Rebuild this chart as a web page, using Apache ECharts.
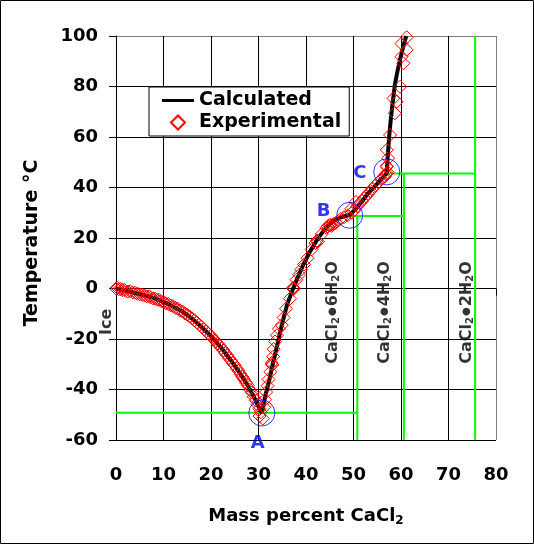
<!DOCTYPE html>
<html>
<head>
<meta charset="utf-8">
<title>CaCl2 - water phase diagram</title>
<script src="https://cdn.jsdelivr.net/npm/echarts@6/dist/echarts.min.js"></script>
<style>
    html, body { margin: 0; padding: 0; background: #fff; }
    #main { width: 534px; height: 544px; }
</style>
</head>
<body>
<div id="main"></div>
<script>
// calculated liquidus (ice, 6H2O, 4H2O, 2H2O branches)
const calcX = [0, 2, 4, 6, 8, 10, 12, 14, 16, 18, 20, 22, 24, 25, 26, 27, 28, 29, 30, 30.7,
    31.5, 32.3, 33, 34, 34.9, 36, 37.3, 38.4, 39.4, 40.8, 42.3, 43.5, 44.7, 46, 47.5, 49.2,
    50.5, 52, 53.1, 54.5, 55.8, 57,
    57.2, 57.5, 57.8, 58.2, 58.7, 59.3, 59.9, 60.5, 61.1];
const calcY = [0, -0.9, -1.8, -2.7, -3.8, -5.4, -7.1, -9.2, -11.9, -15.2, -18.9, -23.1, -28, -30.6, -33.3, -36.2, -39.3, -42.8, -46.8, -49.3,
    -42, -36, -30, -22, -14.5, -6.5, 0, 5, 9.3, 14.5, 19.2, 22.3, 25.1, 27, 28.3, 29.1,
    31.5, 35, 37.8, 40.5, 43.2, 45.7,
    52, 60, 66, 73, 80.5, 86.5, 91.5, 96, 100];

// experimental points
const expX = [0, 0.3, 0.6, 1, 1.3, 1.7, 2, 2.5, 3, 3.5, 4, 4.5, 5, 5.5, 6, 6.5, 7, 7.3, 7.8, 8.2,
    8.6, 9, 9.5, 10, 10.5, 11, 11.5, 12, 12.5, 13, 13.5, 14, 14.5, 15, 15.5, 16, 16.5, 17, 17.5, 18,
    18.5, 19, 19.5, 20, 20.3, 20.7, 21, 21.4, 21.8, 22.2, 22.6, 23, 23.4, 23.8, 24.2, 24.6, 25, 25.4, 25.8, 26.2,
    26.6, 27, 27.4, 27.8, 28.2, 28.6, 29, 29.4, 29.8, 30.2, 30.5, 30.2, 30.9,
    31.2, 31.4, 31.6, 31.9, 32.1, 32.5, 32.8, 32.8, 32.9, 33.1, 33.2, 33.5, 33.9, 34.3, 34.9, 35.3, 35.8, 36.6,
    37.3, 37.3, 37.4, 38, 38.6, 39, 39.6, 40.3, 41.2, 42, 42.3, 42.5, 43.3, 44.3, 44.8, 45, 45.2, 45.4, 45.6, 44.6, 45.9, 46.3,
    47.3, 48, 48.8, 49.6, 50.2, 50.8, 51.3, 51.8, 52.2, 52.6, 53.1, 53.6, 54, 54.6, 55.2, 55.8, 56.3, 56.8, 57, 57.2, 50.5, 49.5,
    56.6, 57, 57, 57.3, 57, 57.7, 58.7, 59.1, 58.4, 59.8, 60.5, 60.1, 61.2, 60.1, 60.8, 61.2];
const expY = [0, 0.2, -0.3, -0.2, -0.6, -0.5, -0.9, -1.2, -1.1, -1.6, -1.7, -2.1, -2.3, -2.5, -2.8, -3.1, -3.1, -3.6, -3.9, -4,
    -4.4, -4.5, -5, -5.3, -5.9, -6.1, -6.7, -7, -7.7, -8, -8.7, -9.1, -9.9, -10.4, -11.1, -11.8, -12.6, -13.4, -14.4, -15.1,
    -16.2, -17, -18, -18.8, -19.6, -20.2, -21, -21.9, -22.6, -23.7, -24.4, -25.6, -26.4, -27.6, -28.4, -29.6, -30.4, -31.7, -32.6, -33.9,
    -35, -36.1, -37.4, -38.5, -40.1, -41.2, -42.9, -44.3, -46, -47.6, -49, -50.5, -51.5,
    -47, -44, -41, -38.5, -36, -33, -30, -29.5, -30.3, -27, -24, -21, -18.5, -16, -14.5, -11.5, -8, -4,
    0, 0.3, -0.2, 3.5, 5.5, 7.5, 9.5, 12, 15.5, 18, 19, 18.5, 21.5, 24, 25, 25, 25.2, 24.8, 25.3, 24.6, 25.6, 26,
    27.6, 28.2, 29, 30, 31, 32.5, 33.8, 34.6, 35.8, 36.4, 37.5, 38.6, 39.6, 40.8, 42, 43.3, 44, 45.2, 45.5, 46, 34.3, 31.5,
    44.3, 48.2, 48.5, 51.6, 54.9, 60.8, 69.4, 74, 75.3, 79.9, 89.2, 91.8, 94.5, 97, 100.4, 99.5];

// invariant points A, B, C
const pointNames = ['A', 'B', 'C'];
const pointX = [30.7, 49.2, 57];
const pointY = [-49.3, 29, 46.2];

// green phase boundaries, one segment per entry
const boundaryX = [[0, 50.8], [50.8, 50.8], [49.3, 60.6], [60.6, 60.6], [57, 75.6], [75.6, 75.6]];
const boundaryY = [[-49.2, -49.2], [-60, 28.7], [28.7, 28.7], [-60, 45.5], [45.5, 45.5], [-60, 100]];

// phase field labels
const phaseLabels = ['Ice', 'CaCl{s|2}{d|●}6H{s|2}O', 'CaCl{s|2}{d|●}4H{s|2}O', 'CaCl{s|2}{d|●}2H{s|2}O'];
const phaseX = [-1.9, 45.6, 56.6, 73.8];
const phaseY = [-13.2, -9.5, -9.5, -9.5];

const xTicks = [0, 80, 10];
const yTicks = [-60, 100, 20];

const FONT = 'DejaVu Sans';
const zip = (xs, ys) => xs.map((x, i) => [x, ys[i]]);

// black grid lines, grey at the far (max) edge
const gridColors = n => Array.from({ length: n }, (_, i) => (i === n - 1 ? '#808080' : '#000'));

let chart = echarts.init(document.getElementById('main'));

let boundarySeries = boundaryX.map((xs, i) => ({
    name: 'boundary' + i,
    type: 'line',
    data: zip(xs, boundaryY[i]),
    symbol: 'none',
    silent: true,
    z: 2,
    lineStyle: { color: '#00ff00', width: 2 }
}));

let labelOffsets = [[-4, 30], [-26, -4], [-27, 1]];

let option = {
    backgroundColor: '#fff',
    animation: false,
    textStyle: { fontFamily: FONT },
    graphic: [{
        type: 'rect',
        shape: { x: 0.5, y: 0.5, width: 533, height: 543 },
        style: { fill: 'none', stroke: '#000', lineWidth: 1 },
        silent: true
    }],
    grid: {
        left: 116, top: 36, width: 380, height: 404
    },
    legend: {
        data: [
            { name: 'Calculated', icon: 'path://M0,0 L32,0 L32,3 L0,3 Z' },
            { name: 'Experimental', icon: 'path://M0,7 L0,7 M9,7 L16,0 L23,7 L16,14 Z M32,7 L32,7' }
        ],
        orient: 'vertical',
        left: 149, top: 87,
        padding: [3, 8, 3, 12],
        itemGap: 1,
        itemWidth: 32, itemHeight: 14,
        backgroundColor: '#fff',
        borderColor: '#000', borderWidth: 1,
        textStyle: { fontFamily: FONT, fontWeight: 'bold', fontSize: 19, color: '#000', lineHeight: 21 }
    },
    xAxis: {
        type: 'value',
        min: xTicks[0], max: xTicks[1], interval: xTicks[2],
        name: 'Mass percent CaCl{s|2}',
        nameLocation: 'middle',
        nameGap: 65,
        nameTextStyle: {
            fontFamily: FONT, fontWeight: 'bold', fontSize: 18, color: '#000',
            rich: { s: { fontFamily: FONT, fontWeight: 'bold', fontSize: 12, color: '#000', padding: [10, 0, 0, 0] } }
        },
        axisLine: { show: true, lineStyle: { color: '#000', width: 1 } },
        axisTick: { show: true, inside: false, length: 7, lineStyle: { color: '#000' } },
        axisLabel: { fontFamily: FONT, fontWeight: 'bold', fontSize: 18, color: '#000', margin: 26 },
        splitLine: { show: true, lineStyle: { color: gridColors(9), width: 1 } }
    },
    yAxis: {
        type: 'value',
        min: yTicks[0], max: yTicks[1], interval: yTicks[2],
        name: 'Temperature °C',
        nameLocation: 'middle',
        nameGap: 74,
        nameTextStyle: { fontFamily: FONT, fontWeight: 'bold', fontSize: 19, color: '#000', padding: [0, 10, 0, 0] },
        axisLine: { show: true, lineStyle: { color: '#000', width: 1 } },
        axisTick: { show: true, inside: false, length: 7, lineStyle: { color: '#000' } },
        axisLabel: { fontFamily: FONT, fontWeight: 'bold', fontSize: 18, color: '#000', margin: 18 },
        splitLine: { show: true, lineStyle: { color: gridColors(9), width: 1 } }
    },
    series: boundarySeries.concat([
        {
            name: 'Calculated',
            type: 'line',
            data: zip(calcX, calcY),
            symbol: 'none',
            z: 3,
            color: '#000',
            lineStyle: { color: '#000', width: 4 }
        },
        {
            name: 'Experimental',
            type: 'scatter',
            data: zip(expX, expY),
            symbol: 'diamond',
            symbolSize: 13,
            z: 4,
            itemStyle: { color: 'rgba(255,255,255,0)', borderColor: '#ff0000', borderWidth: 1, opacity: 1 }
        },
        {
            name: 'points',
            type: 'scatter',
            data: pointNames.map((n, i) => ({
                name: n,
                value: [pointX[i], pointY[i]],
                label: { offset: labelOffsets[i] }
            })),
            symbol: 'circle',
            symbolSize: 26,
            z: 5,
            silent: true,
            itemStyle: { color: 'rgba(255,255,255,0)', borderColor: '#0000ff', borderWidth: 1 },
            label: {
                show: true, position: 'inside', formatter: '{b}',
                fontFamily: FONT, fontWeight: 'bold', fontSize: 18, color: '#0000ff'
            }
        },
        {
            name: 'phases',
            type: 'scatter',
            data: phaseLabels.map((t, i) => ({ name: t, value: [phaseX[i], phaseY[i]] })),
            symbolSize: 0,
            clip: false,
            silent: true,
            z: 6,
            label: {
                show: true, position: 'inside', rotate: 90, formatter: '{b}',
                fontFamily: FONT, fontWeight: 'bold', fontSize: 16, color: '#000',
                rich: {
                    s: { fontFamily: FONT, fontWeight: 'bold', fontSize: 10, color: '#000', padding: [7, 0, 0, 0] },
                    d: { fontFamily: FONT, fontSize: 10, color: '#000', padding: [0, 1, 0, 1] }
                }
            }
        }
    ])
};

chart.setOption(option);
</script>
</body>
</html>
